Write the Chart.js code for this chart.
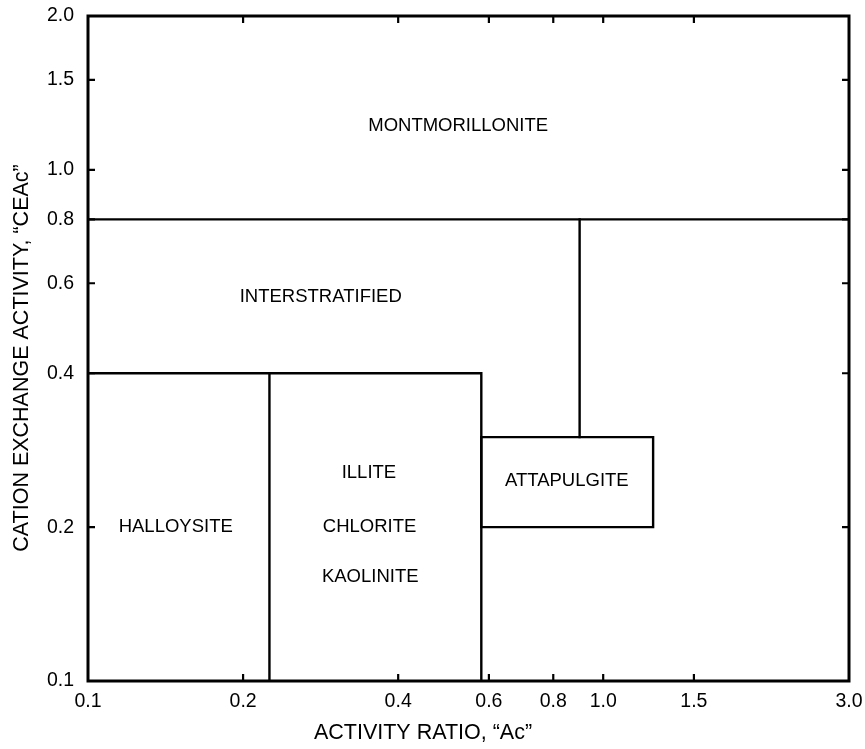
<!DOCTYPE html>
<html>
<head>
<meta charset="utf-8">
<script src="https://cdn.jsdelivr.net/npm/chart.js@4/dist/chart.umd.min.js"></script>
<style>
  html, body { margin: 0; padding: 0; background: #ffffff; }
  #wrap { width: 865px; height: 749px; position: relative; }
</style>
</head>
<body>
<div id="wrap"><canvas id="c" width="865" height="749"></canvas></div>
<script>
// ---- Axis ticks ----
const xTickValues = [0.1, 0.2, 0.4, 0.6, 0.8, 1.0, 1.5, 3.0];
const xTickLabels = ['0.1', '0.2', '0.4', '0.6', '0.8', '1.0', '1.5', '3.0'];
const yTickValues = [0.1, 0.2, 0.4, 0.6, 0.8, 1.0, 1.5, 2.0];
const yTickLabels = ['0.1', '0.2', '0.4', '0.6', '0.8', '1.0', '1.5', '2.0'];

// ---- Region boundaries (Activity ratio x, CEA y) ----
const montmorilloniteBoundaryX = [0.1, 3.0];
const montmorilloniteBoundaryY = [0.8, 0.8];
const attapulgiteStemX = [0.9, 0.9];
const attapulgiteStemY = [0.8, 0.3];
const attapulgiteBoxX = [0.58, 1.25, 1.25, 0.58];
const attapulgiteBoxY = [0.3, 0.3, 0.2, 0.2];
const lowerBlockX = [0.1, 0.58, 0.58];
const lowerBlockY = [0.4, 0.4, 0.1];
const halloysiteBoundaryX = [0.225, 0.225];
const halloysiteBoundaryY = [0.4, 0.1];

// ---- Region labels ----
const regionNames = ['MONTMORILLONITE', 'INTERSTRATIFIED', 'HALLOYSITE', 'ILLITE', 'CHLORITE', 'KAOLINITE', 'ATTAPULGITE'];
const regionX = [0.523, 0.283, 0.148, 0.351, 0.352, 0.353, 0.85];
const regionY = [1.22, 0.564, 0.2, 0.255, 0.2, 0.16, 0.246];

const xTitle = 'ACTIVITY RATIO, \u201CAc\u201D';
const yTitle = 'CATION EXCHANGE ACTIVITY, \u201CCEAc\u201D';

const FONT = '"Liberation Sans", Arial, Helvetica, sans-serif';

function toPts(xs, ys) { return xs.map((x, i) => ({ x: x, y: ys[i] })); }

const lineStyle = {
  showLine: true, borderColor: '#000', borderWidth: 2.4, pointRadius: 0,
  fill: false, tension: 0, borderJoinStyle: 'miter', borderCapStyle: 'square'
};

const datasets = [
  Object.assign({ data: toPts(montmorilloniteBoundaryX, montmorilloniteBoundaryY) }, lineStyle),
  Object.assign({ data: toPts(attapulgiteStemX, attapulgiteStemY) }, lineStyle),
  Object.assign({ data: toPts(attapulgiteBoxX, attapulgiteBoxY).concat([{ x: attapulgiteBoxX[0], y: attapulgiteBoxY[0] }]) }, lineStyle),
  Object.assign({ data: toPts(lowerBlockX, lowerBlockY) }, lineStyle),
  Object.assign({ data: toPts(halloysiteBoundaryX, halloysiteBoundaryY) }, lineStyle)
];

const framePlugin = {
  id: 'frameAndTicks',
  afterDatasetsDraw(chart) {
    const ctx = chart.ctx, a = chart.chartArea;
    const xs = chart.scales.x, ys = chart.scales.y;
    ctx.save();
    ctx.strokeStyle = '#000';
    ctx.lineWidth = 3;
    ctx.strokeRect(a.left, a.top, a.right - a.left, a.bottom - a.top);
    ctx.lineWidth = 2.2;
    const L = 7;
    ctx.beginPath();
    xTickValues.forEach((v, i) => {
      if (i === 0 || i === xTickValues.length - 1) return;
      const px = xs.getPixelForValue(v);
      ctx.moveTo(px, a.bottom); ctx.lineTo(px, a.bottom - L);
      ctx.moveTo(px, a.top); ctx.lineTo(px, a.top + L);
    });
    yTickValues.forEach((v, i) => {
      if (i === 0 || i === yTickValues.length - 1) return;
      const py = ys.getPixelForValue(v);
      ctx.moveTo(a.left, py); ctx.lineTo(a.left + L, py);
      ctx.moveTo(a.right, py); ctx.lineTo(a.right - L, py);
    });
    ctx.stroke();
    // region labels
    ctx.fillStyle = '#000';
    ctx.font = '18.5px ' + FONT;
    ctx.textAlign = 'center';
    ctx.textBaseline = 'middle';
    regionNames.forEach((t, i) => {
      ctx.fillText(t, xs.getPixelForValue(regionX[i]), ys.getPixelForValue(regionY[i]));
    });
    // axis titles (offset slightly from plot centre, as in the original)
    ctx.font = '21.5px ' + FONT;
    ctx.fillText(xTitle, 423, 733);
    ctx.save();
    ctx.translate(22, 358);
    ctx.rotate(-Math.PI / 2);
    ctx.fillText(yTitle, 0, 0);
    ctx.restore();
    ctx.restore();
  }
};

new Chart(document.getElementById('c'), {
  type: 'scatter',
  data: { datasets: datasets },
  options: {
    responsive: false,
    animation: false,
    devicePixelRatio: 1,
    layout: { padding: { left: 0, top: 16, right: 16, bottom: 0 } },
    plugins: { legend: { display: false }, tooltip: { enabled: false } },
    scales: {
      x: {
        type: 'logarithmic', min: 0.1, max: 3.0,
        afterBuildTicks: s => { s.ticks = xTickValues.map(v => ({ value: v })); },
        afterFit: s => { s.height = 68; s.paddingLeft = 0; s.paddingRight = 0; },
        grid: { display: false, drawTicks: false },
        border: { display: false },
        ticks: {
          autoSkip: false, maxRotation: 0, minRotation: 0, padding: 9, color: '#000',
          font: { family: FONT, size: 19.5 },
          callback: (v, i) => xTickLabels[i]
        },
        title: { display: false }
      },
      y: {
        type: 'logarithmic', min: 0.1, max: 2.0,
        afterBuildTicks: s => { s.ticks = yTickValues.map(v => ({ value: v })); },
        afterFit: s => { s.width = 88; s.paddingTop = 0; s.paddingBottom = 0; },
        grid: { display: false, drawTicks: false },
        border: { display: false },
        ticks: {
          autoSkip: false, padding: 14, color: '#000',
          font: { family: FONT, size: 19.5 },
          callback: (v, i) => yTickLabels[i]
        },
        title: { display: false }
      }
    }
  },
  plugins: [framePlugin]
});
</script>
</body>
</html>
